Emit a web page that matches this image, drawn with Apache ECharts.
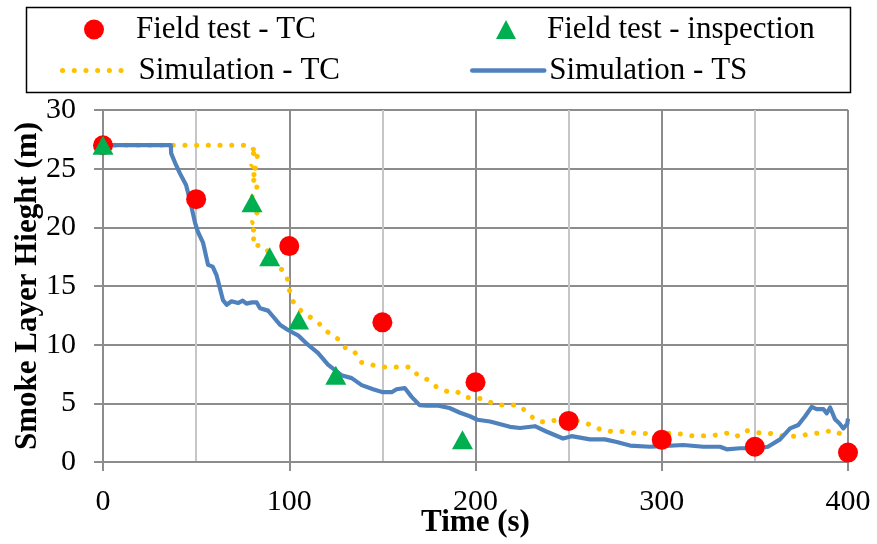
<!DOCTYPE html>
<html>
<head>
<meta charset="utf-8">
<script src="https://cdn.jsdelivr.net/npm/echarts@6/dist/echarts.min.js"></script>
<style>
html,body{margin:0;padding:0;background:#fff;}
#chart{width:877px;height:544px;}
</style>
</head>
<body>
<div id="chart"></div>
<script>
// ---- data ----
var seriesNames = ['Field test - TC', 'Field test - inspection', 'Simulation - TC', 'Simulation - TS'];
var xTicks = [0, 100, 200, 300, 400];
var yTicks = [0, 5, 10, 15, 20, 25, 30];

var fieldTC = [[0,27],[50,22.4],[100,18.4],[150,11.9],[200,6.8],[250,3.5],[300,1.9],[350,1.3],[400,0.8]];
var fieldInspection = [[0,27],[80,22.1],[89.5,17.5],[105,12.1],[125,7.4],[193,1.9]];

var simTC = [[0,27],[77,27],[80,26.6],[83,26.8],[79.5,26],[83,26.1],[79.5,25.2],[83,25.4],[79.5,24.4],[83,24.6],
  [79.5,23.6],[83,23.4],[80,22.6],[83,22.3],[80,21.5],[83,21.2],[80,20.4],[82.5,20.3],[80,19.5],[82,19.2],
  [79.5,18.8],[82,18.5],[87,18.3],[95,16.5],[97,16.3],[99.3,15.5],[100,14.7],[102,13.7],[104.7,13.1],[109.5,12.5],
  [115,12.0],[119,11.25],[126,10.5],[130.5,9.66],[135,9.4],[138.5,8.5],[149,8.1],[160,8.1],[165,8.1],[169,7.4],
  [174.5,7.0],[179,6.4],[185,6.0],[190,6.0],[195,5.5],[200,5.5],[205.6,5.3],[211,4.85],[223,4.85],[228,4.2],
  [232.5,3.5],[238,3.4],[244,3.6],[256,3.5],[262,3.15],[268,2.7],[274,2.6],[279,2.6],[286,2.45],[300,2.4],
  [306.6,2.5],[312.7,2.3],[319,2.2],[324.4,2.25],[329.7,2.3],[335,2.45],[340,2.15],[344.8,2.7],[351,2.5],[356,2.5],
  [362.5,2.3],[368,2.15],[374.5,2.25],[380.5,2.4],[386,2.5],[392,2.7],[397.3,2.3],[400,2.15]];

var simTS = [[0,27],[36.4,27],[36.6,26.3],[38.7,25.5],[41.3,24.6],[44.6,23.6],[46.7,22.3],[49.4,20.4],[51,19.6],
  [53.7,18.7],[56.4,16.8],[58.9,16.65],[61,15.9],[64.4,13.8],[66.4,13.4],[69,13.7],[72.5,13.55],[75,13.75],[77,13.5],
  [80,13.6],[82.5,13.6],[84.3,13.1],[88.6,12.9],[91.3,12.4],[95,11.7],[99.3,11.25],[104.7,10.8],[110,10.0],[115.4,9.3],
  [120.8,8.3],[128,7.4],[133.5,7.15],[138.9,6.55],[145,6.2],[150.3,5.95],[155,5.95],[157.6,6.2],[162,6.3],[165.7,5.55],
  [170,4.85],[173.8,4.8],[180,4.8],[186,4.6],[191.7,4.2],[197,3.9],[201,3.6],[207.8,3.45],[218.5,3.0],[223.9,2.9],
  [231.9,3.05],[238,2.6],[247,2.0],[251.6,2.2],[261.5,1.93],[269.5,1.93],[275.8,1.7],[283,1.4],[293.7,1.3],[300,1.35],
  [311.6,1.45],[322.3,1.3],[331.3,1.3],[334.9,1.08],[342,1.17],[352.7,1.17],[357,1.3],[363.5,1.93],[368.9,2.87],
  [373.3,3.15],[377,3.9],[380.5,4.7],[383.2,4.5],[386.8,4.5],[388.6,4.15],[390.4,4.65],[393,3.65],[395.3,3.3],
  [397.5,2.87],[399.6,3.25],[400,3.7]];

// ---- chart ----
var FONT = 'Liberation Serif, Times New Roman, serif';
function legendText(padLeft) {
  return {fontFamily: FONT, fontSize: 31, color: '#000', padding: [0, 0, 0, padLeft]};
}
var dotDash = [0.1, 11.6];
var hiddenSymbol = {color: 'rgba(0,0,0,0)', borderColor: 'rgba(0,0,0,0)', borderWidth: 0};

var chart = echarts.init(document.getElementById('chart'), null, {renderer: 'canvas'});
chart.setOption({
  animation: false,
  backgroundColor: '#fff',
  graphic: [{
    type: 'rect', left: 24, top: 5, z: 0,
    shape: {width: 824, height: 85},
    style: {fill: 'none', stroke: '#000', lineWidth: 1.5}
  }],
  legend: [
    {data: [{name: seriesNames[0], icon: 'circle'}], left: 84, top: 14, padding: 0, itemWidth: 20, itemHeight: 20,
     textStyle: legendText(27), selectedMode: false, itemStyle: {color: '#FF0000', opacity: 1}},
    {data: [seriesNames[2]], left: 60, top: 55, padding: 0, itemWidth: 62, itemHeight: 20, selectedMode: false,
     textStyle: legendText(9), itemStyle: hiddenSymbol,
     lineStyle: {width: 5, type: dotDash, cap: 'round', color: '#FFC000'}},
    {data: [{name: seriesNames[1], icon: 'triangle'}], left: 496, top: 14, padding: 0, itemWidth: 20, itemHeight: 19,
     textStyle: legendText(26), selectedMode: false, itemStyle: {color: '#00B050', opacity: 1}},
    {data: [seriesNames[3]], left: 470, top: 55, padding: 0, itemWidth: 72, itemHeight: 20, selectedMode: false,
     textStyle: legendText(0), itemStyle: hiddenSymbol,
     lineStyle: {width: 4.5, color: '#4F81BD', cap: 'round'}}
  ],
  grid: {left: 103, right: 29, top: 110, bottom: 82, containLabel: false, outerBoundsMode: 'none'},
  xAxis: {
    type: 'value', min: xTicks[0], max: xTicks[xTicks.length - 1], interval: 100,
    name: 'Time (s)', nameLocation: 'middle', nameGap: 45, nameMoveOverlap: false,
    nameTextStyle: {fontFamily: FONT, fontSize: 31, fontWeight: 'bold', color: '#000', verticalAlign: 'top'},
    axisLine: {show: true, onZero: false, lineStyle: {color: '#8c8c8c', width: 2}},
    axisTick: {show: true, length: 9, lineStyle: {color: '#8c8c8c', width: 2}},
    axisLabel: {fontFamily: FONT, fontSize: 30, color: '#000', margin: 25},
    splitLine: {show: true, lineStyle: {color: '#8c8c8c', width: 2}},
    minorTick: {show: false, splitNumber: 2},
    minorSplitLine: {show: true, lineStyle: {color: '#c6c6c6', width: 2}}
  },
  yAxis: {
    type: 'value', min: yTicks[0], max: yTicks[yTicks.length - 1], interval: 5,
    name: 'Smoke Layer Hieght (m)', nameLocation: 'middle', nameGap: 60, nameMoveOverlap: false,
    nameTextStyle: {fontFamily: FONT, fontSize: 31, fontWeight: 'bold', color: '#000'},
    axisLine: {show: true, onZero: false, lineStyle: {color: '#8c8c8c', width: 2}},
    axisTick: {show: true, length: 9, lineStyle: {color: '#8c8c8c', width: 2}},
    axisLabel: {fontFamily: FONT, fontSize: 30, color: '#000', margin: 27},
    splitLine: {show: true, lineStyle: {color: '#8c8c8c', width: 2}}
  },
  series: [
    {name: seriesNames[0], type: 'scatter', data: fieldTC, symbol: 'circle', symbolSize: 20, z: 5,
     itemStyle: {color: '#FF0000', opacity: 1}},
    {name: seriesNames[1], type: 'scatter', data: fieldInspection, symbol: 'triangle', symbolSize: [21, 19], z: 6,
     itemStyle: {color: '#00B050', opacity: 1}},
    {name: seriesNames[2], type: 'line', data: simTC, symbol: 'none', z: 3, clip: true,
     itemStyle: {color: '#FFC000'},
     lineStyle: {color: '#FFC000', width: 5, type: dotDash, cap: 'round'}},
    {name: seriesNames[3], type: 'line', data: simTS, symbol: 'none', z: 4, clip: true,
     itemStyle: {color: '#4F81BD'},
     lineStyle: {color: '#4F81BD', width: 4.2, join: 'round'}}
  ]
});
</script>
</body>
</html>
